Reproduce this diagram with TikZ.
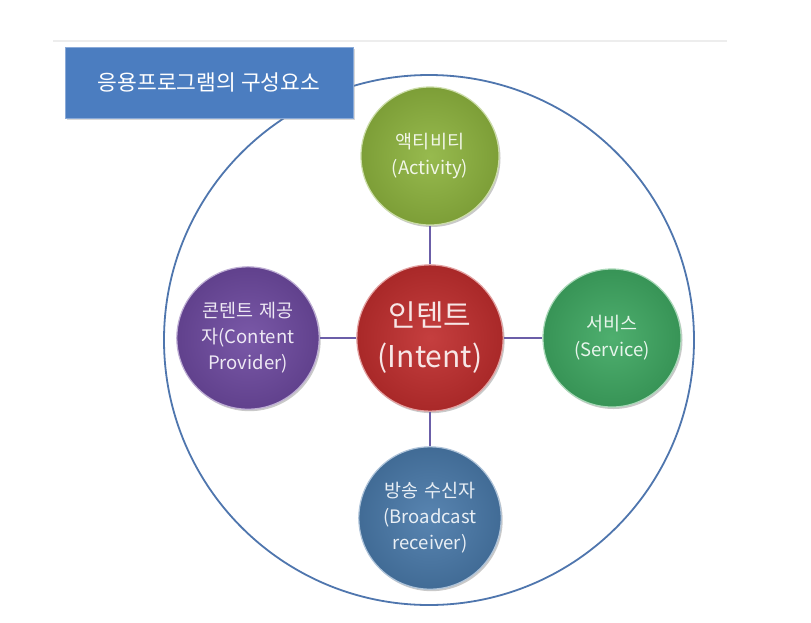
\documentclass[tikz,border=0pt]{standalone}
\usepackage{fontspec}
\setmainfont{Noto Sans CJK KR}
\usetikzlibrary{shadows}
\definecolor{titleblue}{HTML}{4B7DC0}
\definecolor{titleedge}{HTML}{8AAAD8}
\definecolor{ringblue}{HTML}{4F76AE}
\definecolor{connpurple}{HTML}{6B5EA8}
\definecolor{cred}{HTML}{C02E2E}
\definecolor{cgreenA}{HTML}{8EB43F}
\definecolor{cgreenS}{HTML}{3FA862}
\definecolor{cpurple}{HTML}{6E4AA0}
\definecolor{cblue}{HTML}{4A7AAA}
\begin{document}
\begin{tikzpicture}[x=1pt,y=-1pt,
  ballbase/.style={circle, inner sep=0pt, align=center,
    drop shadow={shadow xshift=1.5pt, shadow yshift=-2pt, opacity=0.35, fill=black!60}},
  ball/.style={ballbase, minimum size=138pt, text width=124pt,
    shading=radial, inner color=#1!92!white, outer color=#1!88!black,
    draw=#1!45!white, line width=1.2pt, text=#1!12!white,
    font=\fontsize{18.5}{26}\selectfont},
  bigball/.style={ballbase, minimum size=138pt, text width=128pt,
    shading=radial, inner color=#1!92!white, outer color=#1!88!black,
    draw=#1!45!white, line width=1.2pt, text=#1!12!white,
    font=\fontsize{30}{41}\selectfont},
  conn/.style={draw=connpurple, line width=1.6pt},
  titlebox/.style={rectangle, fill=titleblue, draw=titleedge, line width=0.8pt,
    minimum width=288pt, minimum height=71pt, inner sep=0pt, text=white,
    font=\fontsize{21.5}{24}\selectfont,
    drop shadow={shadow xshift=1.5pt, shadow yshift=-2pt, opacity=0.3, fill=black!50}}
]
\useasboundingbox (0,0) rectangle (811,622);
\fill[white] (0,0) rectangle (811,622);
% faint top rule
\draw[black!7, line width=1.5pt] (53,41) -- (727,41);
% outer ring
\node[circle, draw=ringblue, line width=1.8pt, minimum size=530pt, inner sep=0pt] (outer) at (429,340) {};
% title
\node[titlebox] (title) at (209,82.5) {응용프로그램의 구성요소};
% circles
\node[bigball=cred] (ctr) at (430,338) {인텐트\\(Intent)};
\node[ball=cgreenA] (act) at (430,156) {액티비티\\(Activity)};
\node[ball=cgreenS] (svc) at (612,338) {서비스\\(Service)};
\node[ball=cpurple] (cp) at (248,338) {콘텐트 제공\\자(Content\\Provider)};
\node[ball=cblue] (bc) at (430,518) {방송 수신자\\(Broadcast\\receiver)};
% connectors
\draw[conn] (ctr) -- (act);
\draw[conn] (ctr) -- (svc);
\draw[conn] (ctr) -- (cp);
\draw[conn] (ctr) -- (bc);
\end{tikzpicture}
\end{document}
